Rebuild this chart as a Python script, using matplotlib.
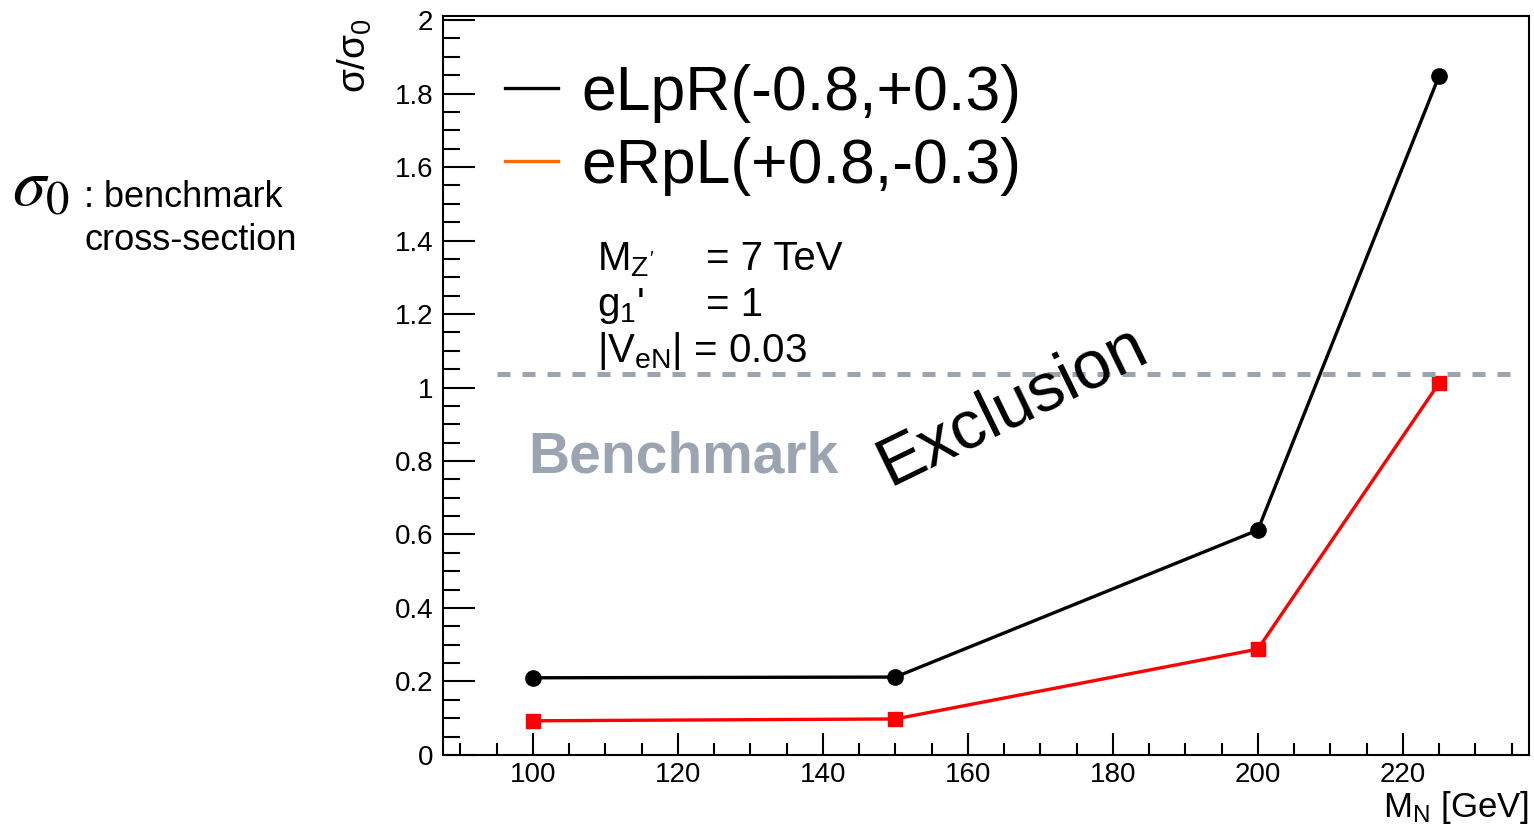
import matplotlib
matplotlib.use("Agg")
import matplotlib.pyplot as plt
from matplotlib.lines import Line2D
from matplotlib.ticker import MultipleLocator

plt.rcParams["font.family"] = ["Liberation Sans", "DejaVu Sans"]
plt.rcParams["mathtext.fontset"] = "custom"
plt.rcParams["mathtext.rm"] = "Liberation Sans"
plt.rcParams["mathtext.it"] = "Liberation Sans"

# data
mass_n = [100, 150, 200, 225]
ratio_elpr = [0.210, 0.212, 0.612, 1.848]
ratio_erpl = [0.093, 0.098, 0.288, 1.012]
benchmark_level = 1.037
legend_labels = ["eLpR(-0.8,+0.3)", "eRpL(+0.8,-0.3)"]
legend_colors = ["black", "#ff6a00"]

fig = plt.figure(figsize=(15.34, 8.31), dpi=100)
ax = fig.add_axes([0.2888, 0.0915, 0.7079, 0.8892])

ax.plot(mass_n, ratio_elpr, color="black", lw=2.4, marker="o", ms=11)
ax.plot(mass_n, ratio_erpl, color="red", lw=2.4, marker="s", ms=10.5)

ax.axhline(benchmark_level, xmin=0.05, xmax=0.99, color="#9aa5b1", lw=3.6,
           dashes=(2.6, 2.4))

ax.set_xlim(87.6, 237.4)
ax.set_ylim(0, 2.011)
ax.xaxis.set_major_locator(MultipleLocator(20))
ax.xaxis.set_minor_locator(MultipleLocator(5))
ax.yaxis.set_major_locator(MultipleLocator(0.2))
ax.yaxis.set_minor_locator(MultipleLocator(0.05))
ax.yaxis.set_major_formatter(plt.FuncFormatter(lambda v, p: f"{v:g}"))
ax.tick_params(which="both", direction="in", labelsize=20, width=1.5)
ax.tick_params(axis="y", which="major", length=23, pad=7)
ax.tick_params(axis="y", which="minor", length=12)
ax.tick_params(axis="x", which="major", length=16, pad=5)
ax.tick_params(axis="x", which="minor", length=9)
for s in ax.spines.values():
    s.set_linewidth(1.5)

handles = [Line2D([], [], color=c, lw=2.4) for c in legend_colors]
ax.legend(handles, legend_labels, loc="upper left", bbox_to_anchor=(0.057, 0.935),
          frameon=False, fontsize=45, handlelength=0.85, handletextpad=0.38,
          labelspacing=0.22, borderaxespad=0, borderpad=0)

# parameter block
ax.text(108.8, 1.32, r"M$_{Z'}$", fontsize=29)
ax.text(123.9, 1.32, "= 7 TeV", fontsize=29)
ax.text(108.8, 1.195, r"g$_1$'", fontsize=29)
ax.text(123.9, 1.195, "= 1", fontsize=29)
ax.text(108.8, 1.07, r"|V$_{eN}$| = 0.03", fontsize=29)

ax.text(99.3, 0.77, "Benchmark", fontsize=41, fontweight="bold", color="#9aa5b1")
ax.text(166.1, 0.952, "Exclusion", fontsize=49, rotation=26,
        ha="center", va="center", rotation_mode="anchor")

fig.text(0.2314, 0.978, r"$\sigma/\sigma_0$", fontsize=28, rotation=90,
         ha="center", va="top")
fig.text(0.9967, 0.017, r"M$_N$ [GeV]", fontsize=25, ha="right", va="baseline")

fig.text(0.008, 0.753, r"$\sigma_0$", fontsize=48, math_fontfamily="stix",
         va="baseline")
fig.text(0.055, 0.751, ": benchmark", fontsize=26, va="baseline")
fig.text(0.055, 0.699, "cross-section", fontsize=26, va="baseline")

fig.savefig("out.png", dpi=100)
